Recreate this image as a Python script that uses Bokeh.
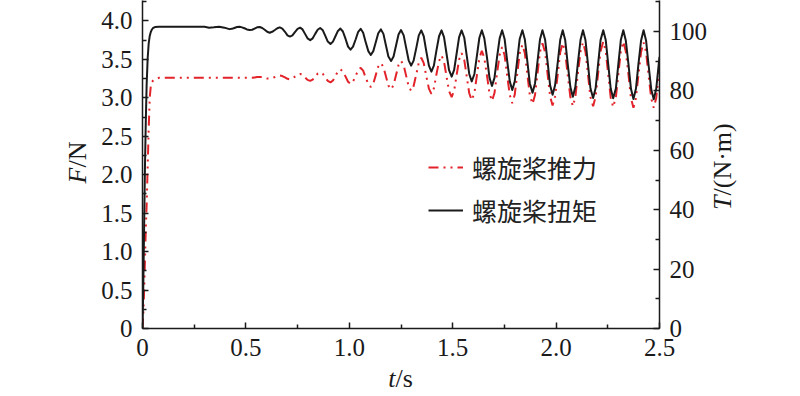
import math
from bokeh.plotting import figure
from bokeh.models import (Range1d, LinearAxis, FixedTicker, Legend, LegendItem,
                          Label, CustomJSTickFormatter)
from bokeh.embed import file_html
from bokeh.resources import INLINE

# ---------------- data ----------------
t_s = [
    0, 0.004, 0.008, 0.012, 0.016, 0.020, 0.025, 0.030, 0.035, 0.040, 0.045,
    0.050, 0.060, 0.080, 0.150, 0.250, 0.300, 0.322, 0.345, 0.371, 0.396,
    0.420, 0.432, 0.444, 0.457, 0.469, 0.481, 0.493, 0.505,
    0.518, 0.530, 0.542, 0.554, 0.567, 0.579, 0.591, 0.603,
    0.615, 0.627, 0.640, 0.652, 0.664, 0.676, 0.689, 0.701,
    0.713, 0.725, 0.737, 0.750, 0.762, 0.774, 0.786, 0.798,
    0.811, 0.823, 0.835, 0.847, 0.859, 0.872, 0.884, 0.896,
    0.909, 0.921, 0.933, 0.945, 0.957, 0.969, 0.982, 0.994,
    1.006, 1.018, 1.031, 1.043, 1.055, 1.067, 1.079, 1.092,
    1.104, 1.116, 1.128, 1.140, 1.153, 1.165, 1.177, 1.189,
    1.202, 1.214, 1.226, 1.238, 1.250, 1.263, 1.275, 1.287,
    1.299, 1.311, 1.324, 1.336, 1.348, 1.360, 1.372, 1.385,
    1.397, 1.409, 1.421, 1.434, 1.446, 1.458, 1.470, 1.482,
    1.495, 1.507, 1.519, 1.531, 1.543, 1.556, 1.568, 1.580,
    1.592, 1.605, 1.617, 1.629, 1.641, 1.653, 1.666, 1.678,
    1.690, 1.702, 1.714, 1.727, 1.739, 1.751, 1.763, 1.776,
    1.788, 1.800, 1.812, 1.824, 1.837, 1.849, 1.861, 1.873,
    1.886, 1.898, 1.910, 1.922, 1.934, 1.947, 1.959, 1.971,
    1.983, 1.995, 2.008, 2.020, 2.032, 2.044, 2.056, 2.069,
    2.081, 2.093, 2.105, 2.118, 2.130, 2.142, 2.154, 2.166,
    2.179, 2.191, 2.203, 2.215, 2.228, 2.240, 2.252, 2.264,
    2.276, 2.289, 2.301, 2.313, 2.325, 2.337, 2.350, 2.362,
    2.374, 2.386, 2.398, 2.411, 2.423, 2.435, 2.447, 2.460,
    2.472, 2.484, 2.496, 2.500,
]

thrust_N = [
    0, 0.2, 0.5, 0.9, 1.3, 1.6, 2.1, 2.6, 3.0, 3.15, 3.2,
    3.22, 3.24, 3.26, 3.26, 3.26, 3.26, 3.26, 3.26, 3.26, 3.26,
    3.26, 3.26, 3.26, 3.26, 3.26, 3.26, 3.26, 3.26,
    3.26, 3.26, 3.265, 3.27, 3.27, 3.27, 3.26, 3.25,
    3.25, 3.256, 3.27, 3.284, 3.29, 3.283, 3.265, 3.247,
    3.24, 3.25, 3.275, 3.30, 3.31, 3.297, 3.265, 3.233,
    3.22, 3.236, 3.275, 3.314, 3.33, 3.311, 3.265, 3.219,
    3.20, 3.225, 3.285, 3.345, 3.37, 3.342, 3.275, 3.208,
    3.18, 3.211, 3.285, 3.359, 3.39, 3.353, 3.265, 3.177,
    3.14, 3.185, 3.295, 3.405, 3.45, 3.40, 3.28, 3.16,
    3.11, 3.164, 3.295, 3.426, 3.48, 3.423, 3.285, 3.147,
    3.09, 3.153, 3.305, 3.457, 3.52, 3.451, 3.285, 3.119,
    3.05, 3.123, 3.30, 3.477, 3.55, 3.471, 3.28, 3.089,
    3.01, 3.093, 3.295, 3.497, 3.58, 3.491, 3.275, 3.059,
    2.97, 3.063, 3.29, 3.517, 3.61, 3.515, 3.285, 3.055,
    2.96, 3.062, 3.31, 3.558, 3.66, 3.553, 3.295, 3.037,
    2.93, 3.041, 3.31, 3.579, 3.69, 3.578, 3.305, 3.032,
    2.92, 3.035, 3.315, 3.595, 3.71, 3.592, 3.305, 3.018,
    2.90, 3.018, 3.305, 3.592, 3.71, 3.590, 3.30, 3.010,
    2.89, 3.011, 3.305, 3.599, 3.72, 3.599, 3.305, 3.011,
    2.89, 3.013, 3.31, 3.607, 3.73, 3.606, 3.305, 3.004,
    2.88, 3.004, 3.305, 3.606, 3.73, 3.604, 3.30, 2.996,
    2.87, 2.994, 3.295, 3.596, 3.72, 3.596, 3.295, 2.994,
    2.87, 2.994, 3.295, 3.36,
]

torque_Nm = [
    0, 15, 35, 55, 70, 82, 91, 96, 98.5, 99.8, 100.6,
    101.1, 101.5, 101.6, 101.6, 101.6, 101.6, 101.3, 101.4, 101.6, 101.3,
    100.8, 100.9, 101.2, 101.5, 101.6, 101.4, 101.1, 100.7,
    100.5, 100.6, 101.0, 101.4, 101.5, 101.2, 100.6, 99.9,
    99.6, 99.9, 100.5, 101.1, 101.4, 101.0, 99.9, 98.7,
    98.3, 98.7, 99.8, 100.9, 101.3, 100.7, 99.2, 97.7,
    97.1, 97.7, 99.2, 100.6, 101.2, 100.4, 98.5, 96.6,
    95.8, 96.6, 98.4, 100.2, 101.0, 100.0, 97.5, 94.9,
    93.9, 94.9, 97.4, 99.9, 100.9, 99.6, 96.5, 93.4,
    92.1, 93.4, 96.4, 99.4, 100.7, 99.2, 95.4, 91.6,
    90.1, 91.6, 95.3, 99.0, 100.5, 98.7, 94.5, 90.3,
    88.5, 90.2, 94.5, 98.7, 100.4, 98.4, 93.5, 88.5,
    86.5, 88.5, 93.5, 98.4, 100.4, 98.1, 92.6, 87.1,
    84.8, 87.1, 92.6, 98.1, 100.4, 97.9, 91.8, 85.7,
    83.2, 85.7, 91.8, 97.9, 100.4, 97.7, 91.1, 84.4,
    81.7, 84.4, 91.1, 97.7, 100.4, 97.5, 90.4, 83.2,
    80.3, 83.2, 90.4, 97.5, 100.4, 97.3, 89.9, 82.5,
    79.4, 82.5, 89.9, 97.3, 100.4, 97.2, 89.6, 81.9,
    78.7, 81.9, 89.6, 97.2, 100.4, 97.1, 89.2, 81.3,
    78.0, 81.3, 89.2, 97.1, 100.4, 97.1, 89.0, 80.9,
    77.6, 80.9, 89.0, 97.1, 100.4, 97.1, 89.0, 80.8,
    77.5, 80.8, 89.0, 97.1, 100.4, 97.0, 88.9, 80.7,
    77.3, 80.7, 88.9, 97.0, 100.4, 97.0, 88.8, 80.6,
    77.2, 80.6, 88.8, 91.5,
]

x_ticks = [0, 0.5, 1.0, 1.5, 2.0, 2.5]
x_minor = [0.25, 0.75, 1.25, 1.75, 2.25]
f_ticks = [0, 0.5, 1.0, 1.5, 2.0, 2.5, 3.0, 3.5, 4.0]
f_minor = [0.25, 0.75, 1.25, 1.75, 2.25, 2.75, 3.25, 3.75, 4.25]
t_ticks = [0, 20, 40, 60, 80, 100]
t_minor = [10, 30, 50, 70, 90, 110]

legend_labels = ["螺旋桨推力", "螺旋桨扭矩"]

RED = "#e3232a"
INK = "#1a1a1a"
SERIF = "Liberation Serif"

# ---------------- figure ----------------
p = figure(width=800, height=396, output_backend="svg", toolbar_location=None,
           x_range=Range1d(0, 2.5), y_range=Range1d(0, 4.265),
           min_border_left=142, min_border_right=141,
           min_border_top=0, min_border_bottom=68)
p.extra_y_ranges = {"T": Range1d(0, 110.44)}
p.grid.visible = False
p.outline_line_color = None
p.background_fill_color = "white"
p.border_fill_color = "white"

r_red = p.line(t_s, thrust_N, line_color=RED, line_width=2,
               line_dash="10 5 2 5 2 5")
r_blk = p.line(t_s, torque_Nm, line_color=INK, line_width=2,
               y_range_name="T", line_join="round")

raxis = LinearAxis(y_range_name="T")
p.add_layout(raxis, "right")

p.xaxis[0].ticker = FixedTicker(ticks=x_ticks, minor_ticks=x_minor)
p.xaxis[0].formatter = CustomJSTickFormatter(code="return tick == 0 ? '0' : tick.toFixed(1);")
p.yaxis[0].ticker = FixedTicker(ticks=f_ticks, minor_ticks=f_minor)
p.yaxis[0].formatter = CustomJSTickFormatter(code="return tick == 0 ? '0' : tick.toFixed(1);")
raxis.ticker = FixedTicker(ticks=t_ticks, minor_ticks=t_minor)

for ax in (p.xaxis[0], p.yaxis[0], raxis):
    ax.axis_line_color = INK
    ax.axis_line_width = 1.5
    ax.major_tick_line_color = INK
    ax.major_tick_line_width = 1.5
    ax.minor_tick_line_color = INK
    ax.minor_tick_line_width = 1.5
    ax.major_tick_in = 6
    ax.major_tick_out = 0
    ax.minor_tick_in = 4
    ax.minor_tick_out = 0
    ax.major_label_text_font = SERIF
    ax.major_label_text_font_size = "25px"
    ax.major_label_text_color = INK
    ax.major_label_standoff = 10

# ---------------- axis titles (italic symbol + upright unit) ----------------
def title(sym, rest, x, y, angle, side):
    a = Label(x=x, y=y, x_units="canvas", y_units="canvas", text=sym,
              angle=angle, text_align="right", text_baseline="middle",
              text_font=SERIF, text_font_size="26px",
              text_font_style="italic", text_color=INK)
    b = Label(x=x, y=y, x_units="canvas", y_units="canvas", text=rest,
              angle=angle, text_align="left", text_baseline="middle",
              text_font=SERIF, text_font_size="26px", text_color=INK)
    p.add_layout(a, side)
    p.add_layout(b, side)

title("F", "/N", 77, 167, math.pi / 2, "left")
title("T", "/(N·m)", 722, 195, math.pi / 2, "right")
title("t", "/s", 395, 378, 0, "left")

# ---------------- legend ----------------
legend = Legend(items=[LegendItem(label=legend_labels[0], renderers=[r_red]),
                       LegendItem(label=legend_labels[1], renderers=[r_blk])],
                location=(286, 100), border_line_color=None,
                background_fill_alpha=0, padding=0, margin=0, spacing=7,
                glyph_width=35, glyph_height=30, label_height=30,
                label_standoff=9, label_text_font="Noto Sans CJK SC",
                label_text_font_size="25px", label_text_color="#222222")
p.add_layout(legend)

open("out.html", "w").write(file_html(p, INLINE))
